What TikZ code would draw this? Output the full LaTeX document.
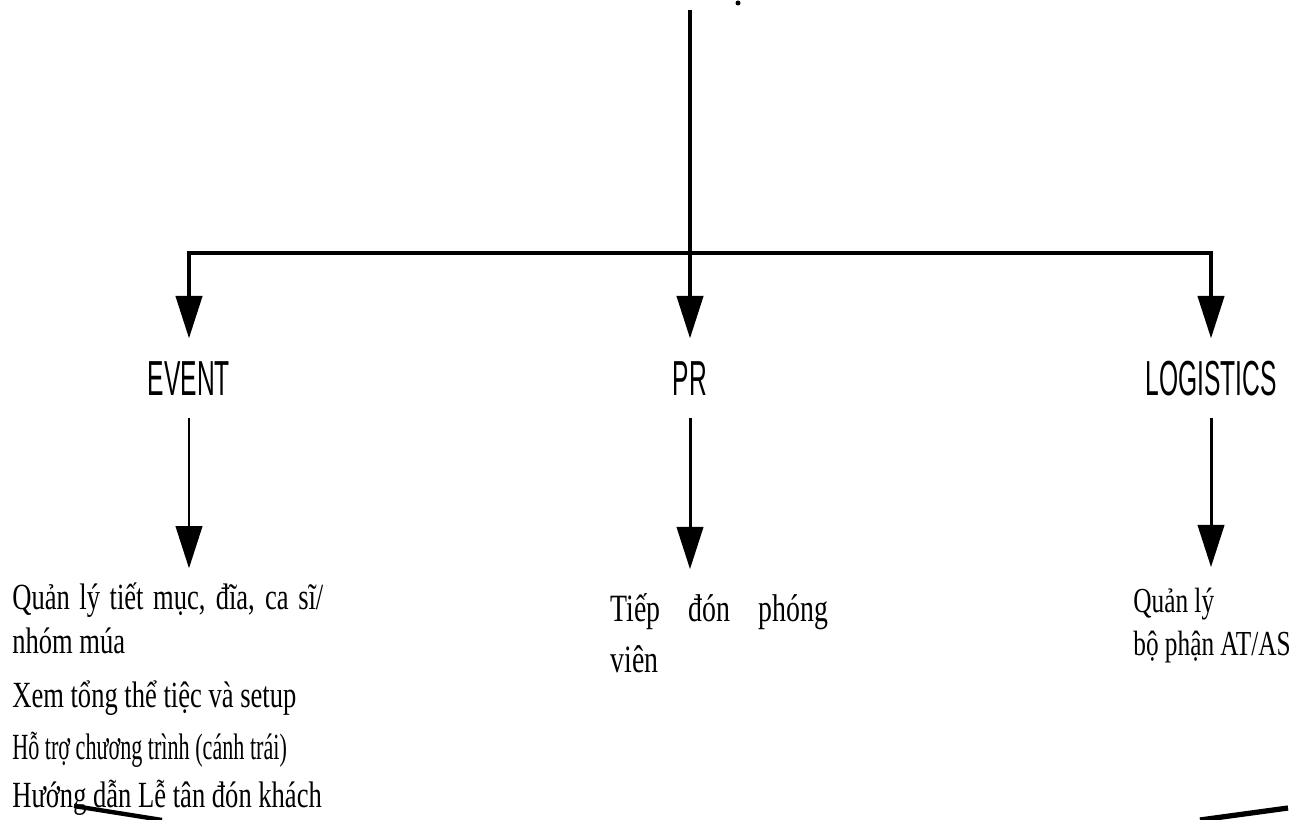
\documentclass[tikz,border=0pt]{standalone}
\usepackage{fontspec}
\setmainfont{Liberation Serif}[FakeStretch=0.72]
\newfontfamily\headfont{Liberation Sans}[FakeStretch=0.5]
\newfontfamily\tightfont{Liberation Serif}[FakeStretch=0.6]
\usetikzlibrary{arrows.meta}
\tikzset{
	head/.style={font=\headfont\fontsize{28}{30}\selectfont, inner xsep=0pt, inner ysep=12.5pt, text height=20pt, text depth=0pt},
	% task lists hang from the baseline of their last line
	task/.style={inner xsep=0pt, align=left, anchor=base west},
	bar/.style={line width=2.6pt},
	link/.style={line width=1.7pt},
	% big filled heads of the branch arrows
	bigtip/.style={-{Triangle[width=15.5pt, length=24pt, line width=0pt]}},
}
\begin{document}
\begin{tikzpicture}[x=0.02cm, y=-0.02cm]
		\useasboundingbox (0,0) rectangle (1297,820);
		
		\coordinate (root) at (690,10);
		\coordinate (hub) at (690,253);
		\fill (738,3) circle (2.5);
		
		\node (event) [head] at (189,378) {EVENT};
		\node (pr) [head] at (690,378) {PR};
		\node (logistics) [head] at (1211,378) {LOGISTICS};
		
		\node (evtasks) [task, inner ysep=8pt, font=\fontsize{21}{25}\selectfont] at (12,807)
			{\makebox[177pt][s]{Quản lý tiết mục, đĩa, ca sĩ/}\\
			nhóm múa\\[6pt]
			Xem tổng thể tiệc và setup\\[4.5pt]
			{\tightfont Hỗ trợ chương trình (cánh trái)}\\[2pt]
			Hướng dẫn Lễ tân đón khách};
		\node (prtasks) [task, inner ysep=14pt, font=\fontsize{22}{28.5}\selectfont] at (610,672)
			{\makebox[124pt][s]{Tiếp đón phóng}\\ viên};
		\node (lgtasks) [task, inner ysep=12pt, font=\fontsize{20}{24}\selectfont] at (1133,655)
			{Quản lý\\ bộ phận AT/AS};
		
		% lines running off the lower edge
		\coordinate (cutl) at (74,806);
		\coordinate (cutl2) at (162,820);
		\coordinate (cutr) at (1288,808);
		\coordinate (cutr2) at (1200,820);
		
		\begin{scope}[bar]
			\draw (root) -- (hub);
			\draw [bigtip] (hub) -| (event);
			\draw [bigtip] (hub) -- (pr);
			\draw [bigtip] (hub) -| (logistics);
		\end{scope}
		\begin{scope}[link, bigtip]
			\draw (event) -- (event |- evtasks.north);
			\draw (pr) -- (pr |- prtasks.north);
			\draw (logistics) -- (logistics |- lgtasks.north);
		\end{scope}
		\draw [line width=2.5pt] (cutl) -- (cutl2);
		\draw [line width=3pt] (cutr) -- (cutr2);
	\end{tikzpicture}
\end{document}
